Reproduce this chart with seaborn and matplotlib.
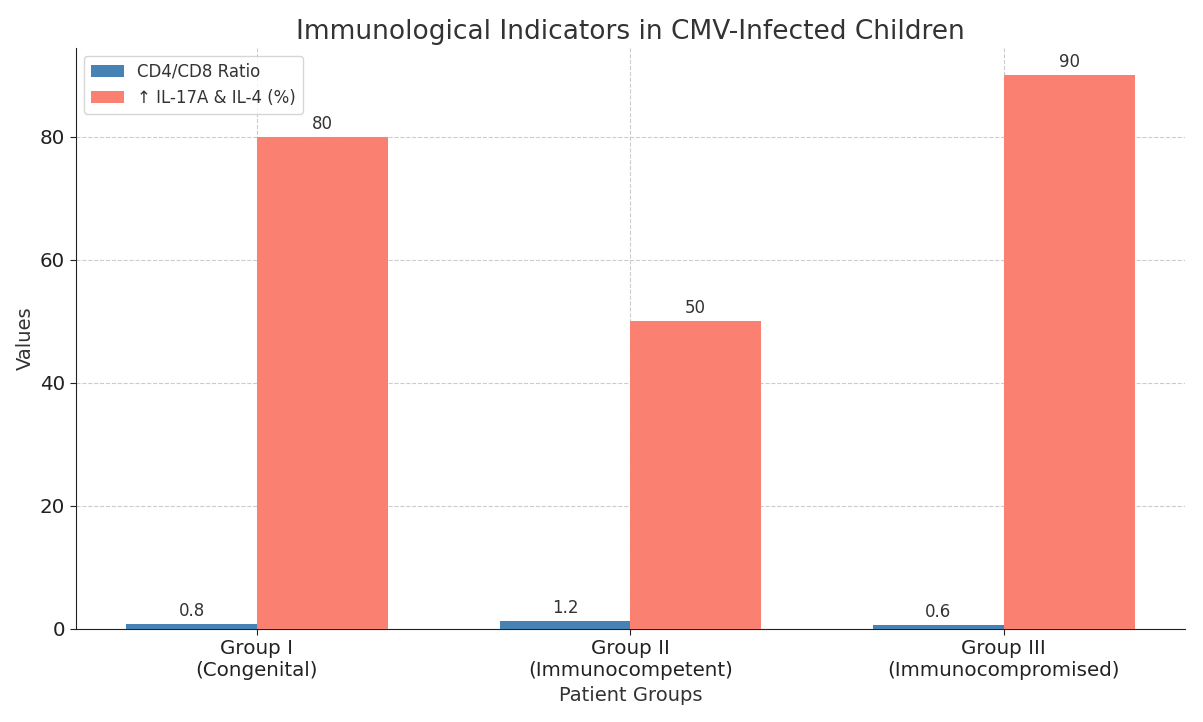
import matplotlib
matplotlib.use("Agg")
import matplotlib.pyplot as plt
import seaborn as sns
import pandas as pd

# Data
groups = ["Group I\n(Congenital)", "Group II\n(Immunocompetent)", "Group III\n(Immunocompromised)"]
cd4_cd8_ratio = [0.8, 1.2, 0.6]
il17a_il4_pct = [80, 50, 90]
series_names = ["CD4/CD8 Ratio", "\u2191 IL-17A & IL-4 (%)"]

df = pd.DataFrame({
    "group": groups * 2,
    "value": cd4_cd8_ratio + il17a_il4_pct,
    "series": [series_names[0]] * 3 + [series_names[1]] * 3,
})

sns.set_style("white")
plt.rcParams["font.family"] = ["DejaVu Sans"]
plt.rcParams["text.color"] = "#333333"
plt.rcParams["axes.labelcolor"] = "#333333"
plt.rcParams["xtick.color"] = "#222222"
plt.rcParams["ytick.color"] = "#222222"

fig, ax = plt.subplots(figsize=(12.03, 7.22), dpi=100)
sns.barplot(data=df, x="group", y="value", hue="series", order=groups,
            palette={series_names[0]: "steelblue", series_names[1]: "salmon"},
            width=0.7, gap=0, saturation=1, linewidth=0, ax=ax, zorder=3)

for c in ax.containers:
    ax.bar_label(c, padding=3, fontsize=12, color="#333333")

ax.set_xlim(-0.485, 2.485)
ax.set_ylim(0, 94.5)
ax.set_title("Immunological Indicators in CMV-Infected Children", fontsize=19, color="#333333")
ax.set_xlabel("Patient Groups", fontsize=14)
ax.set_ylabel("Values", fontsize=14)
ax.tick_params(axis="both", labelsize=14.3, length=4, left=True, bottom=True)
ax.grid(True, linestyle="--", color="#cccccc", linewidth=0.8, zorder=0)
ax.set_axisbelow(True)
sns.despine(ax=ax)
for s in ["left", "bottom"]:
    ax.spines[s].set_color("#222222")
ax.legend(fontsize=12, loc="upper left", title=None)

fig.subplots_adjust(left=0.063, right=0.985, top=0.934, bottom=0.129)
fig.savefig("out.png", dpi=100)
